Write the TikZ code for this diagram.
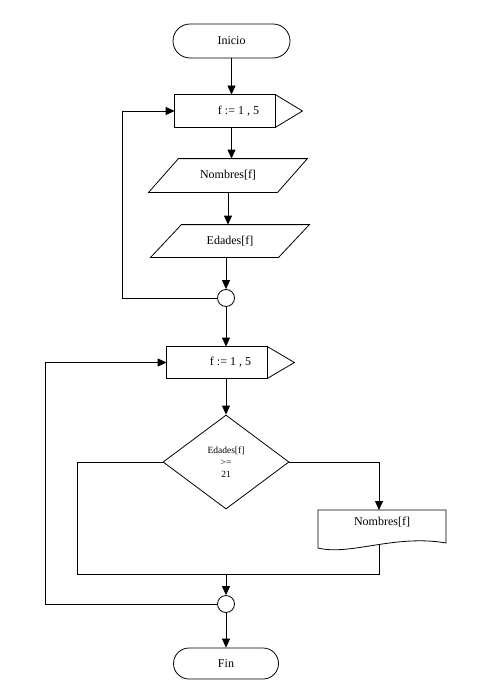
\documentclass[tikz,border=0pt]{standalone}
\usepackage{fontspec}
\setmainfont{Liberation Serif}
\usetikzlibrary{arrows.meta,shapes.misc,shapes.geometric}
\begin{document}
\begin{tikzpicture}[x=1pt,y=-1pt,line width=0.8pt,
  every node/.style={font=\fontsize{12}{14}\selectfont,inner sep=0pt},
  term/.style={draw,rounded rectangle,minimum height=34pt},
  forbox/.style={minimum width=127pt,minimum height=32pt},
  iobox/.style={minimum width=158pt,minimum height=33pt},
  conn/.style={draw,circle,minimum size=17pt},
  dec/.style={draw,diamond,minimum width=126pt,minimum height=94pt,align=center,font=\fontsize{9.5}{12}\selectfont},
  arr/.style={-{Triangle[length=9pt,width=8pt]}}]
\fill[white] (0,0) rectangle (498,698);
\useasboundingbox (0,0) rectangle (498,698);
% nodes
\node[term,minimum width=117pt] (ini) at (231.5,41) {Inicio};
\node[forbox] (for1) at (238.5,111) {f := 1 , 5};
\draw (for1.north west) rectangle ([xshift=-27pt]for1.south east);
\draw ([xshift=-27pt]for1.north east) -- (for1.east) -- ([xshift=-27pt]for1.south east);
\node[iobox] (nom) at (228,175.5) {Nombres[f]};
\draw (nom.south west) -- ++(129,0) -- (nom.north east) -- ++(-129,0) -- cycle;
\node[iobox,minimum height=32pt] (eda) at (230,241) {Edades[f]};
\draw (eda.south west) -- ++(128,0) -- (eda.north east) -- ++(-128,0) -- cycle;
\node[conn] (c1) at (226,298) {};
\node[forbox,minimum height=31pt] (for2) at (230.5,362.5) {f := 1 , 5};
\draw (for2.north west) rectangle ([xshift=-27pt]for2.south east);
\draw ([xshift=-27pt]for2.north east) -- (for2.east) -- ([xshift=-27pt]for2.south east);
\node[dec] (dec) at (226,462) {Edades[f]\\>=\\21};
\node (doc) at (382,522) {Nombres[f]};
\draw (318,510) -- (446,510) -- (446,543) .. controls (395,534) and (350,556) .. (318,548) -- cycle;
\node[conn] (c2) at (226,604) {};
\node[term,minimum width=105pt,minimum height=31pt] (fin) at (226,663.5) {Fin};
% coordinates
\coordinate (l1) at (122,298);
\coordinate (l2) at (45,604);
\coordinate (doct) at (379,510);
\coordinate (docb) at (379,545);
\coordinate (lb) at (77,574);
\coordinate (j) at (226,574);
% connectors
\draw[arr] (ini.south) -- (ini.south |- for1.north);
\draw[arr] (ini.south |- for1.south) -- (ini.south |- nom.north);
\draw[arr] (nom.south) -- (nom.south |- eda.north);
\draw[arr] (c1.north |- eda.south) -- (c1.north);
\draw[arr] (c1.west) -- (l1) |- (for1.west);
\draw[arr] (c1.south) -- (c1.south |- for2.north);
\draw[arr] (dec.north |- for2.south) -- (dec.north);
\draw[arr] (dec.east) -| (doct);
\draw (dec.west) -| (lb) -| (docb);
\draw[arr] (j) -- (c2.north);
\draw[arr] (c2.west) -- (l2) |- (for2.west);
\draw[arr] (c2.south) -- (fin.north);
\end{tikzpicture}
\end{document}
